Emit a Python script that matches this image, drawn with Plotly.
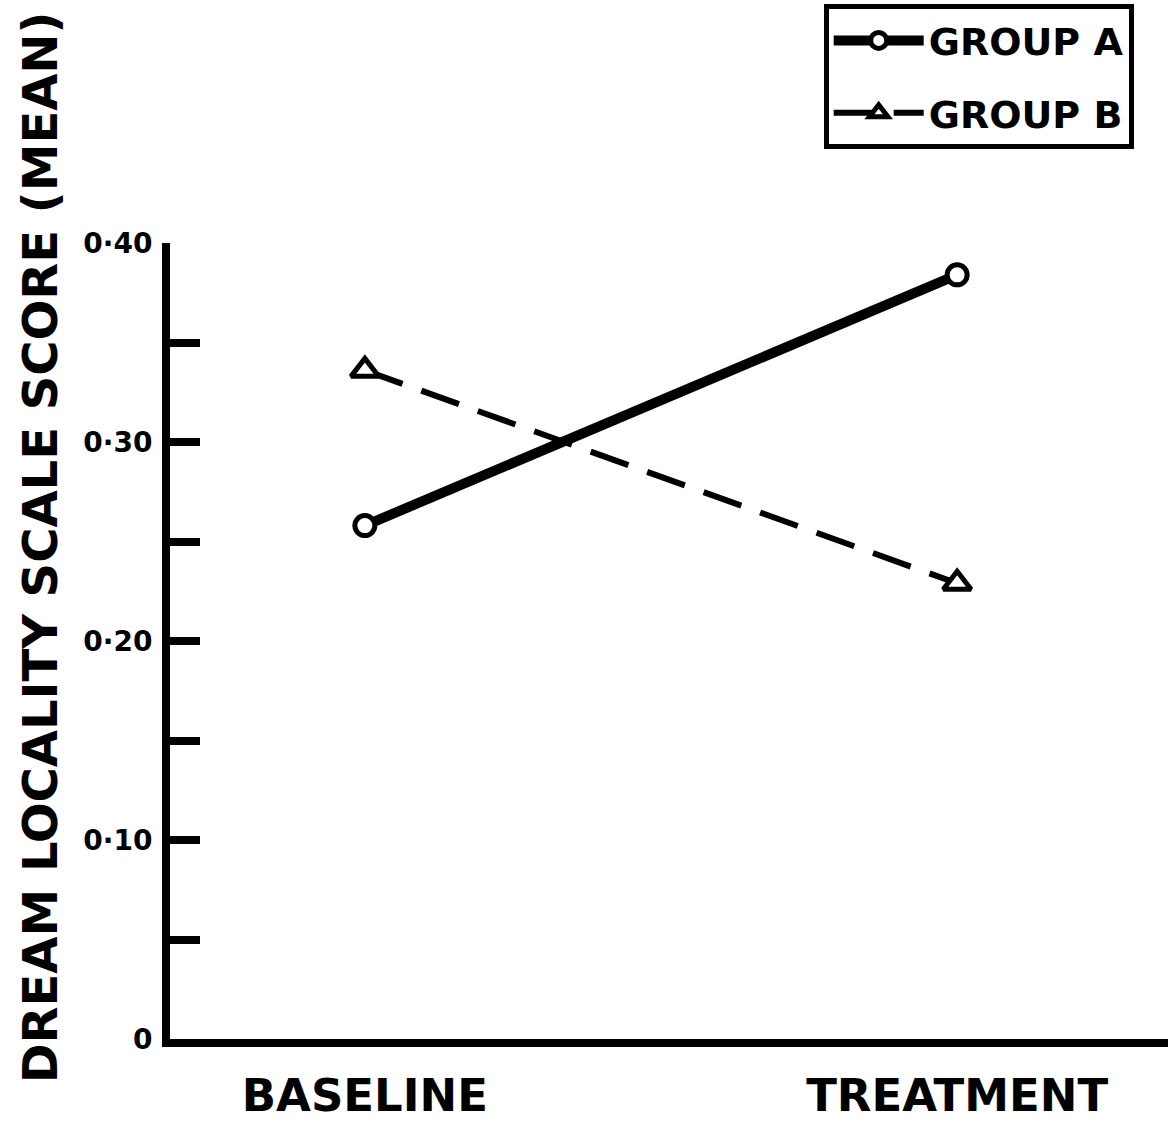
import plotly.graph_objects as go

# Data
phases = ["BASELINE", "TREATMENT"]
phase_pos = [0, 1]
group_a = [0.258, 0.384]
group_b = [0.336, 0.229]
y_ticks = [0, 0.10, 0.20, 0.30, 0.40]
y_tick_labels = ["0", "0·10", "0·20", "0·30", "0·40"]
minor_ticks = [0.05, 0.15, 0.25, 0.35]
y_title = "DREAM LOCALITY SCALE SCORE (MEAN)"

FONT = "DejaVu Sans"

fig = go.Figure()
fig.add_trace(go.Scatter(
    x=phase_pos, y=group_a, name="GROUP A", mode="lines+markers",
    legendgroup="a",
    line=dict(color="black", width=10),
    marker=dict(symbol="circle", size=20, color="white",
                line=dict(color="black", width=5)),
))
fig.add_trace(go.Scatter(
    x=phase_pos, y=group_b, name="GROUP B", mode="lines+markers",
    legendgroup="b",
    line=dict(color="black", width=6, dash="40px,20px"),
    marker=dict(symbol="triangle-up", size=24, color="white",
                line=dict(color="black", width=5)),
))

fig.update_layout(
    width=1168, height=1125,
    margin=dict(l=170, r=0, t=243, b=86),
    paper_bgcolor="white", plot_bgcolor="white",
    font=dict(family=FONT, color="black", weight="bold"),
    showlegend=True,
    legend=dict(
        x=0.655, y=1.3, xanchor="left", yanchor="top",
        bordercolor="black", borderwidth=5, bgcolor="white",
        font=dict(family=FONT, size=38, weight="bold"),
        itemwidth=90, traceorder="grouped", tracegroupgap=20,
    ),
    xaxis=dict(
        range=[-0.329, 1.356], tickmode="array", tickvals=phase_pos,
        ticktext=phases, showgrid=False, zeroline=False,
        showline=True, linecolor="black", linewidth=8,
        ticks="", tickfont=dict(family=FONT, size=45, weight="bold"),
        ticklabelstandoff=10, automargin=False,
    ),
    yaxis=dict(
        range=[0, 0.4], tickmode="array", tickvals=y_ticks,
        ticktext=y_tick_labels, showgrid=False, zeroline=False,
        showline=True, linecolor="black", linewidth=8,
        ticks="inside", ticklen=30, tickwidth=8, tickcolor="black",
        tickfont=dict(family=FONT, size=28, weight="bold"),
        ticklabelstandoff=4,
        minor=dict(tickmode="array", tickvals=minor_ticks, ticks="inside",
                   ticklen=30, tickwidth=8, tickcolor="black", showgrid=False),
        automargin=False,
    ),
    annotations=[dict(
        text=y_title, textangle=-90, xref="paper", yref="paper",
        x=-0.13, y=0.618, xanchor="center", yanchor="middle",
        showarrow=False, font=dict(family=FONT, size=48, weight="bold"),
    )],
)

fig.write_html("out.html", config={"displayModeBar": False},
               post_script="document.body.style.margin='0px';")
